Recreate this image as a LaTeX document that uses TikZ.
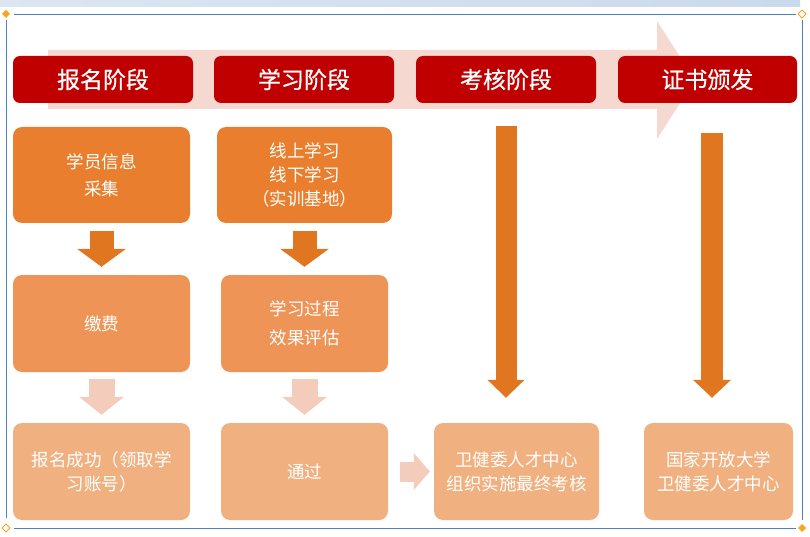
\documentclass[tikz,border=0pt]{standalone}
\usepackage{fontspec}
\newfontfamily\cjk{Noto Sans CJK SC}
\newfontfamily\cjkhead[FakeBold=0.6]{Noto Sans CJK SC}
\usetikzlibrary{arrows.meta, positioning, calc}
\definecolor{stageRed}{RGB}{192, 0, 0}
\definecolor{boxOrange}{RGB}{233, 127, 46}
\definecolor{boxMid}{RGB}{237, 148, 86}
\definecolor{boxLight}{RGB}{241, 176, 128}
\definecolor{flowOrange}{RGB}{224, 118, 32}
\definecolor{flowPale}{RGB}{243, 204, 188}
\definecolor{bandPale}{RGB}{245, 216, 208}
\definecolor{frameBlue}{RGB}{79, 129, 189}
\definecolor{handle}{RGB}{245, 166, 35}

\begin{document}
\begin{tikzpicture}[x=1pt, y=-1pt,
        phase/.style={rectangle, rounded corners=7pt, fill=stageRed, text=white, minimum width=180pt, minimum height=47pt, font=\cjkhead\fontsize{23}{26}\selectfont},
        task/.style={rectangle, rounded corners=9pt, text=white, minimum height=97pt, align=center, font=\cjk\fontsize{17.5}{24}\selectfont},
        darkflow/.style={draw=flowOrange, line width=24pt, -{Triangle[length=18pt, width=48pt]}},
        paleflow/.style={draw=flowPale, line width=26pt, -{Triangle[length=18pt, width=44pt]}},
        longflow/.style={draw=flowOrange, line width=21pt, -{Triangle[length=18pt, width=36pt]}}]

        \useasboundingbox (0,0) rectangle (810,537);

        % frame of the slide
        \shade[left color=frameBlue!20, right color=frameBlue!30] (0,0) rectangle (800,7);
        \draw[frameBlue, line width=0.8pt] (14,14) -- (796,14) (802,20) -- (802,520) (14,528) -- (796,528) (6,20) -- (6,518);
        \fill[handle] (6,10) -- (10,14) -- (6,18) -- (2,14) -- cycle;
        \draw[handle, line width=1pt] (802,10) -- (806,14) -- (802,18) -- (798,14) -- cycle;
        \draw[handle, line width=1pt] (6,524) -- (10,528) -- (6,532) -- (2,528) -- cycle;
        \fill[handle] (802,524) -- (806,528) -- (802,532) -- (798,528) -- cycle;

        % background band arrow
        \fill[bandPale] (48,50) -- (657,50) -- (657,21) -- (695,80) -- (657,139) -- (657,109) -- (48,109) -- cycle;

        \node[phase] (h1) at (103,79.5) {报名阶段};
        \node[phase] (h2) at (304,79.5) {学习阶段};
        \node[phase] (h3) at (506,79.5) {考核阶段};
        \node[phase, minimum width=179pt] (h4) at (707.5,79.5) {证书颁发};

        \node[task, fill=boxOrange, minimum width=177pt, minimum height=96pt] (info) at (101.5,175) {学员信息\\[3pt]采集};
        \node[task, fill=boxOrange, minimum width=175pt, minimum height=96pt] (study) at (304.5,175) {线上学习\\线下学习\\（实训基地）};
        \node[task, fill=boxMid, minimum width=177pt] (fee) at (101.5,323.5) {缴费};
        \node[task, fill=boxMid, minimum width=167pt] (eval) at (304.5,323.5) {学习过程\\[5pt]效果评估};
        \node[task, fill=boxLight, minimum width=177pt] (done) at (101.5,471.5) {报名成功（领取学\\习账号）};
        \node[task, fill=boxLight, minimum width=167pt] (pass) at (304.5,471.5) {通过};
        \node[task, fill=boxLight, minimum width=165pt] (exam) at (516.5,471.5) {卫健委人才中心\\组织实施最终考核};
        \node[task, fill=boxLight, minimum width=149pt] (cert) at (718.5,471.5) {国家开放大学\\卫健委人才中心};

        \draw[darkflow, shorten <=8pt, shorten >=8pt] (info) -- (fee);
        \draw[darkflow, shorten <=8pt, shorten >=8pt] (study) -- (eval);
        \draw[paleflow, shorten <=7pt, shorten >=8pt] (fee) -- (done);
        \draw[paleflow, shorten <=7pt, shorten >=8pt] (eval) -- (pass);
        \draw[paleflow, line width=20pt, -{Triangle[length=16pt, width=36pt]}, shorten <=12pt, shorten >=4pt] (pass) -- (exam);
        \draw[longflow, shorten <=23pt, shorten >=25pt] (h3.south) -- (h3.south |- exam.north);
        \draw[longflow, line width=22pt, -{Triangle[length=18pt, width=37pt]}, shorten <=30pt, shorten >=25pt] ([xshift=4.5pt]h4.south) -- ([xshift=4.5pt]h4.south |- cert.north);
    \end{tikzpicture}
\end{document}
